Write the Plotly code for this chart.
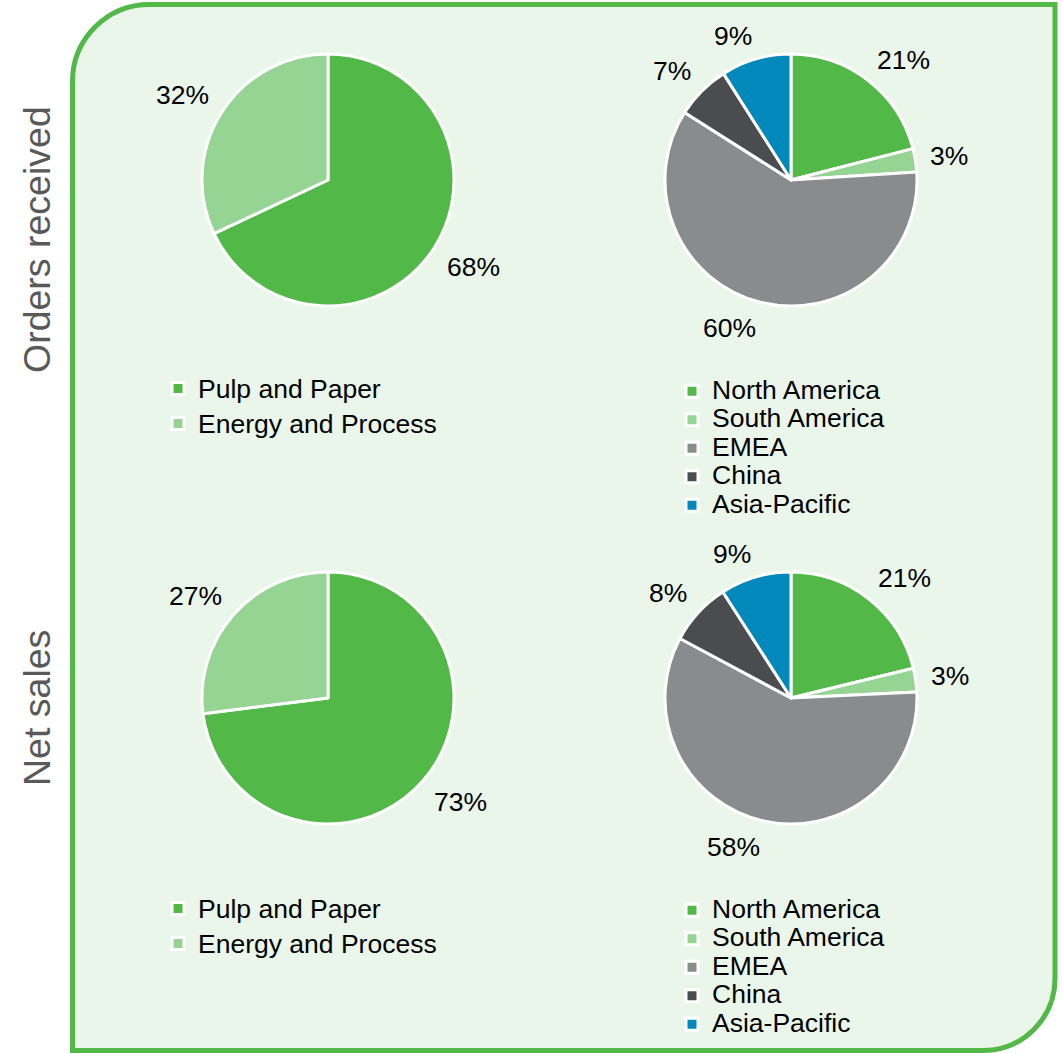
import math
import plotly.graph_objects as go

W, H = 1062, 1053

# ---------------- data ----------------
segment_labels = ["Pulp and Paper", "Energy and Process"]
orders_segment = [68, 32]
sales_segment = [73, 27]

region_labels = ["North America", "South America", "EMEA", "China", "Asia-Pacific"]
orders_region = [21, 3, 60, 7, 9]
sales_region = [21, 3, 58, 8, 9]

row_titles = ["Orders received", "Net sales"]

segment_colors = ["#52b848", "#96d493"]
region_colors = ["#52b848", "#96d493", "#8a8b8d", "#4b4c4f", "#0089ba"]

# ---------------- layout helpers (pixels) ----------------
FONT = "Liberation Sans, Arial, sans-serif"
R = 126
LEG_TEXT = 26.5
pies = [
    # labels, values, colors, cx, cy, legend id, legend left, legend top, legend base size
    (segment_labels, orders_segment, segment_colors, 328, 180, "legend", 158, 366, 24.6),
    (region_labels, orders_region, region_colors, 791, 180, "legend2", 672, 372, 19.6),
    (segment_labels, sales_segment, segment_colors, 328, 698, "legend3", 158, 886, 24.6),
    (region_labels, sales_region, region_colors, 791, 698, "legend4", 672, 891, 19.6),
]


def px_x(x):
    return x / W


def px_y(y):
    return 1 - y / H


fig = go.Figure()
annotations = []
legends = {}

LABEL_FS = 26.5
GAP = 15
for i, (labels, values, colors, cx, cy, lg, lx, ly, lsize) in enumerate(pies):
    shown = [f'<span style="font-size:{LEG_TEXT}px">{lab}</span>' for lab in labels]
    fig.add_trace(go.Pie(
        labels=shown,
        values=values,
        sort=False,
        direction="clockwise",
        rotation=0,
        marker=dict(colors=colors, line=dict(color="white", width=3)),
        textinfo="none",
        hovertext=labels,
        hoverinfo="text+percent",
        domain=dict(x=[px_x(cx - R), px_x(cx + R)], y=[px_y(cy + R), px_y(cy - R)]),
        legend=lg,
        legendgroup=f"g{i}",
        showlegend=True,
    ))
    legends[lg] = dict(
        x=px_x(lx), y=px_y(ly), xanchor="left", yanchor="top",
        bgcolor="rgba(0,0,0,0)", borderwidth=0,
        font=dict(family=FONT, size=lsize, color="black"),
        traceorder="normal",
    )
    # outside percentage labels, placed from the data's slice angles
    total = sum(values)
    cum = 0
    for v in values:
        mid = (cum + v / 2) / total * 2 * math.pi
        cum += v
        dx, dy = math.sin(mid), -math.cos(mid)
        txt = f"{v}%"
        w = (len(txt) - 1) * 0.556 * LABEL_FS + 0.889 * LABEL_FS
        h = 20
        lx_ = dx * (R + GAP) + math.copysign(w / 2, dx)
        ly_ = dy * (R + GAP) + math.copysign(h / 2, dy) * min(1, abs(dy) / 0.5) + 1
        annotations.append(dict(
            x=px_x(cx + lx_), y=px_y(cy + ly_),
            xref="paper", yref="paper", text=txt, showarrow=False,
            xanchor="center", yanchor="middle",
            font=dict(family=FONT, size=LABEL_FS, color="black"),
        ))

# row titles
for title, yc in zip(row_titles, [240, 708]):
    annotations.append(dict(
        x=px_x(37), y=px_y(yc), xref="paper", yref="paper", text=title,
        showarrow=False, textangle=-90, xanchor="center", yanchor="middle",
        font=dict(family=FONT, size=37.5, color="#595959"),
    ))

# panel with rounded top-left and bottom-right corners
L, T, Rt, B = 72.5, 4.5, 1055, 1050.5
r1, r2 = 77, 72
k = 0.5523


def P(x, y):
    return f"{px_x(x):.6f},{px_y(y):.6f}"


path = (
    f"M {P(L, T + r1)} "
    f"C {P(L, T + r1 - k * r1)} {P(L + r1 - k * r1, T)} {P(L + r1, T)} "
    f"L {P(Rt, T)} "
    f"L {P(Rt, B - r2)} "
    f"C {P(Rt, B - r2 + k * r2)} {P(Rt - r2 + k * r2, B)} {P(Rt - r2, B)} "
    f"L {P(L, B)} Z"
)

fig.update_layout(
    width=W, height=H,
    margin=dict(l=0, r=0, t=0, b=0),
    paper_bgcolor="white",
    plot_bgcolor="white",
    shapes=[dict(type="path", path=path, xref="paper", yref="paper",
                 fillcolor="#ebf6ea", line=dict(color="#52b848", width=5),
                 layer="below")],
    annotations=annotations,
    **legends,
)

fig.write_html("out.html")
